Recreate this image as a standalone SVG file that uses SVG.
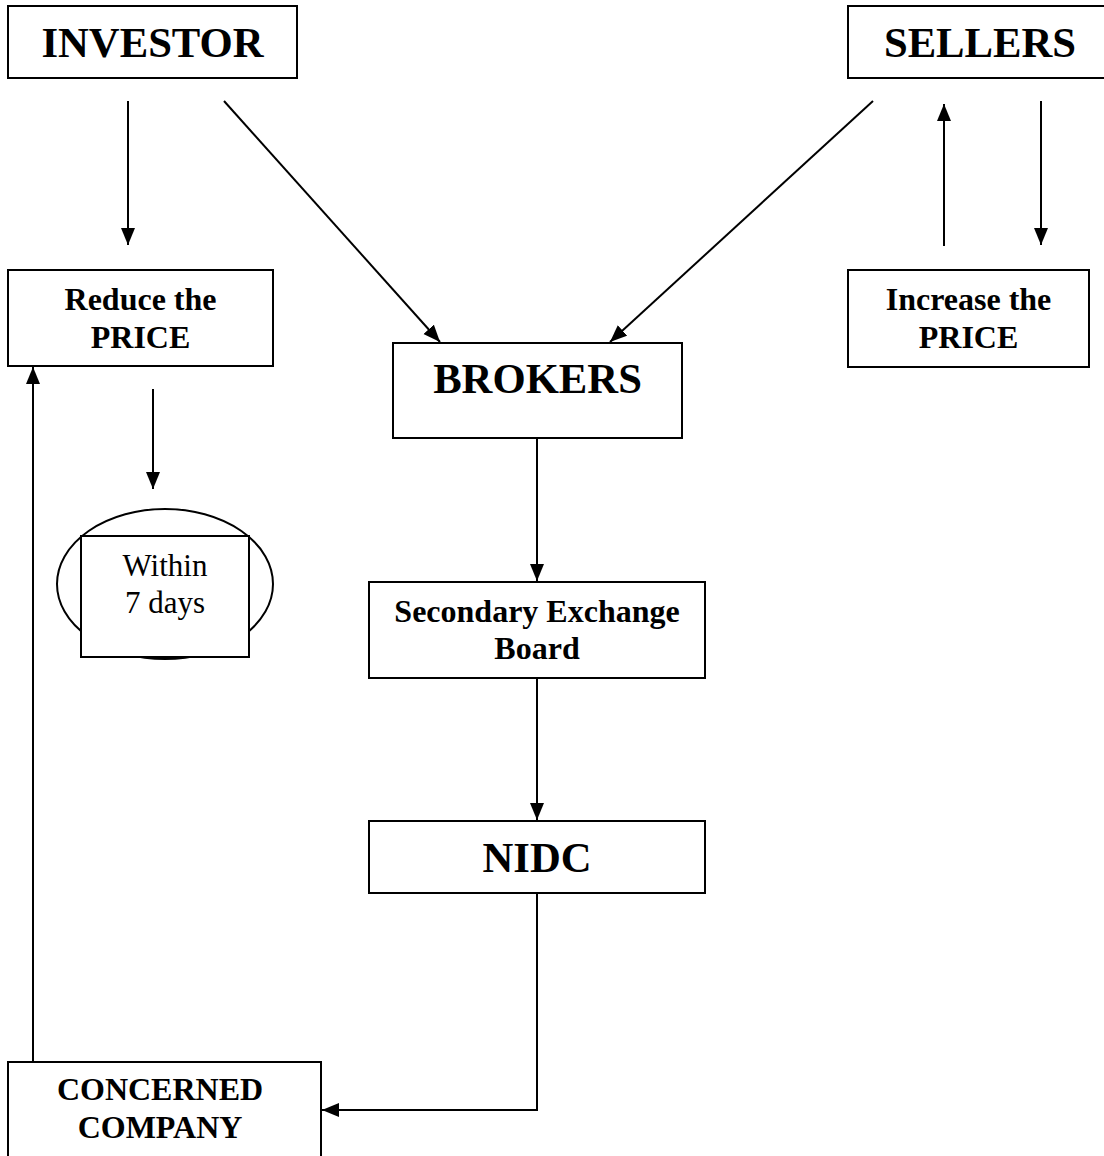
<svg xmlns="http://www.w3.org/2000/svg" width="1104" height="1156" viewBox="0 0 1104 1156">
<style>
.box{fill:#fff;stroke:#000;stroke-width:2}
.big{font-family:"Liberation Serif","Times New Roman",serif;font-weight:bold;font-size:42.7px;text-anchor:middle;fill:#000}
.mid{font-family:"Liberation Serif","Times New Roman",serif;font-weight:bold;font-size:32px;text-anchor:middle;fill:#000}
.reg{font-family:"Liberation Serif","Times New Roman",serif;font-size:31px;text-anchor:middle;fill:#000}
.ln{fill:none;stroke:#000;stroke-width:2}
</style>
<defs>
<marker id="ah" markerUnits="userSpaceOnUse" markerWidth="18" markerHeight="16" refX="17" refY="7" orient="auto">
<path d="M0,0 L17,7 L0,14 z" fill="#000"/>
</marker>
</defs>
<rect width="1104" height="1156" fill="#fff"/>
<g id="investor"><rect class="box" x="8" y="6" width="289" height="72"/><text class="big" x="152.5" y="57">INVESTOR</text></g>
<g id="sellers"><rect class="box" x="848" y="6" width="270" height="72"/><text class="big" x="980" y="57">SELLERS</text></g>
<g id="reduce"><rect class="box" x="8" y="270" width="265" height="96"/><text class="mid" x="140.5" y="310">Reduce the</text><text class="mid" x="140.5" y="348">PRICE</text></g>
<g id="increase"><rect class="box" x="848" y="270" width="241" height="97"/><text class="mid" x="968.5" y="310">Increase the</text><text class="mid" x="968.5" y="348">PRICE</text></g>
<g id="within"><ellipse cx="165" cy="584" rx="108" ry="75" fill="none" stroke="#000" stroke-width="2"/><rect class="box" x="81" y="536" width="168" height="121"/><text class="reg" x="165" y="576">Within</text><text class="reg" x="165" y="613">7 days</text></g>
<g id="brokers"><rect class="box" x="393" y="343" width="289" height="95"/><text class="big" x="537.5" y="393">BROKERS</text></g>
<g id="secondary"><rect class="box" x="369" y="582" width="336" height="96"/><text class="mid" x="537" y="622">Secondary Exchange</text><text class="mid" x="537" y="659">Board</text></g>
<g id="nidc"><rect class="box" x="369" y="821" width="336" height="72"/><text class="big" x="537" y="872">NIDC</text></g>
<g id="company"><rect class="box" x="8" y="1062" width="313" height="110"/><text class="mid" x="160" y="1100">CONCERNED</text><text class="mid" x="160" y="1138">COMPANY</text></g>
<g id="connectors">
<line class="ln" x1="128" y1="101" x2="128" y2="245" marker-end="url(#ah)"/>
<line class="ln" x1="224" y1="101" x2="440" y2="342" marker-end="url(#ah)"/>
<line class="ln" x1="873" y1="101" x2="610" y2="342" marker-end="url(#ah)"/>
<line class="ln" x1="944" y1="246" x2="944" y2="104" marker-end="url(#ah)"/>
<line class="ln" x1="1041" y1="101" x2="1041" y2="245" marker-end="url(#ah)"/>
<line class="ln" x1="153" y1="389" x2="153" y2="489" marker-end="url(#ah)"/>
<line class="ln" x1="537" y1="438" x2="537" y2="581" marker-end="url(#ah)"/>
<line class="ln" x1="537" y1="678" x2="537" y2="820" marker-end="url(#ah)"/>
<polyline class="ln" points="537,893 537,1110 322,1110" marker-end="url(#ah)"/>
<line class="ln" x1="33" y1="1062" x2="33" y2="367" marker-end="url(#ah)"/>
</g>
</svg>
